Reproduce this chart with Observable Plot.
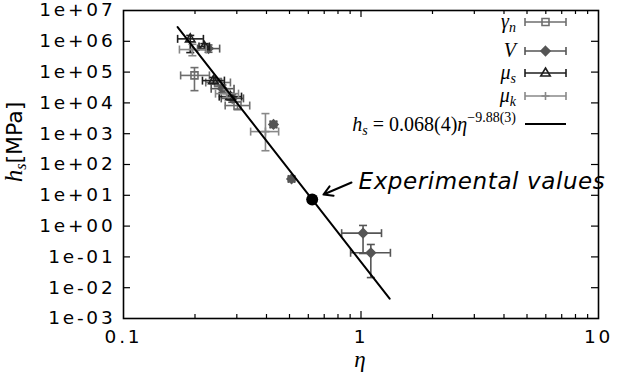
<!DOCTYPE html>
<html><head><meta charset="utf-8">
<script src="https://cdn.jsdelivr.net/npm/d3@7"></script>
<script src="https://cdn.jsdelivr.net/npm/@observablehq/plot@0.6"></script>
<style>
body{margin:0;background:#fff;}
#chart svg{display:block;}
g[aria-label="y-axis tick label"] text, g[aria-label="x-axis tick label"] text{letter-spacing:2.8px;}
</style>
</head><body><div id="chart"></div>
<script>
// ---- data ----
const xTicks = [0.1, 1, 10];
const yTicks = [1e-3,1e-2,1e-1,1e0,1e1,1e2,1e3,1e4,1e5,1e6,1e7];
const xMinor = [0.2,0.3,0.4,0.5,0.6,0.7,0.8,0.9,2,3,4,5,6,7,8,9];

// gamma_n (open squares)
const gEta   = [0.199, 0.250, 0.302];
const gH     = [7.8e4, 4.6e4, 8.2e3];
const gEtaLo = [0.174, 0.222, 0.268];
const gEtaHi = [0.230, 0.282, 0.340];
const gHLo   = [2.5e4, 3.4e4, 6.0e3];
const gHHi   = [1.4e5, 6.2e4, 1.1e4];

// V (filled diamonds)
const vEta   = [0.228, 0.261, 0.287, 0.428, 0.510, 1.02, 1.10];
const vH     = [5.8e5, 2.9e4, 1.4e4, 2.0e3, 34, 0.59, 0.136];
const vEtaLo = [0.205, 0.234, 0.258, 0.415, 0.495, 0.829, 0.904];
const vEtaHi = [0.254, 0.292, 0.320, 0.441, 0.525, 1.22, 1.33];
const vHLo   = [4.4e5, 2.2e4, 1.05e4, 1.6e3, 28, 0.129, 0.0213];
const vHHi   = [7.6e5, 3.8e4, 1.85e4, 2.5e3, 41, 1.05, 0.253];

// mu_s (open triangles)
const sEta   = [0.191, 0.219, 0.239, 0.282];
const sH     = [1.2e6, 6.8e5, 5.3e4, 1.6e4];
const sEtaLo = [0.169, 0.208, 0.215, 0.253];
const sEtaHi = [0.217, 0.230, 0.266, 0.314];
const sHLo   = [4.3e5, 5.5e5, 4.2e4, 1.25e4];
const sHHi   = [1.55e6, 8.4e5, 6.7e4, 2.05e4];

// mu_k (plus)
const kEta   = [0.195, 0.272, 0.396];
const kH     = [5.4e5, 2.0e4, 1.17e3];
const kEtaLo = [0.172, 0.244, 0.343];
const kEtaHi = [0.223, 0.305, 0.450];
const kHLo   = [3.4e5, 1.5e4, 280];
const kHHi   = [8.0e5, 2.7e4, 4.5e3];

// fit line h_s = 0.068 eta^-9.88 (end points)
const fitEta = [0.169, 1.32];
const fitH   = [2.9e6, 4.4e-3];

// experimental value + annotation
const expEta = [0.623];
const expH   = [7.3];
const arrowFrom = [0.912, 26];
const arrowTo   = [0.695, 10.6];
const noteAt    = [0.976, 30];
const noteText  = "Experimental values";

// ---- build ----
function rows(eta, h, lo, hi, hlo, hhi){
  return eta.map((e,i)=>({eta:e, h:h[i], lo:lo[i], hi:hi[i], hlo:hlo[i], hhi:hhi[i]}));
}
const diamondSym = {draw(ctx){ const r=4.5; ctx.moveTo(0,-r); ctx.lineTo(r,0); ctx.lineTo(0,r); ctx.lineTo(-r,0); ctx.closePath(); }};
const squareSym  = {draw(ctx){ const r=3.5; ctx.rect(-r,-r,2*r,2*r); }};
const triSym     = {draw(ctx){ const r=5; ctx.moveTo(0,-r); ctx.lineTo(r*0.95,r*0.6); ctx.lineTo(-r*0.95,r*0.6); ctx.closePath(); }};
const plusSym    = {draw(ctx){ const r=4; ctx.moveTo(0,-r); ctx.lineTo(0,r); ctx.moveTo(-r,0); ctx.lineTo(r,0); }};
const series = [
  {rows: rows(gEta,gH,gEtaLo,gEtaHi,gHLo,gHHi), color:"#6e6e6e", symbol:squareSym, fill:"none"},
  {rows: rows(vEta,vH,vEtaLo,vEtaHi,vHLo,vHHi), color:"#555555", symbol:diamondSym, fill:"#555555"},
  {rows: rows(sEta,sH,sEtaLo,sEtaHi,sHLo,sHHi), color:"#1e1e1e", symbol:triSym, fill:"none"},
  {rows: rows(kEta,kH,kEtaLo,kEtaHi,kHLo,kHHi), color:"#888888", symbol:plusSym, fill:"none"}
];
const vcap = {draw(ctx){ ctx.moveTo(0,-4); ctx.lineTo(0,4); }};
const hcap = {draw(ctx){ ctx.moveTo(-4,0); ctx.lineTo(4,0); }};

const W = 617, H = 374, mL = 123, mR = 19, mT = 10, mB = 56;
const fw = W - mL - mR, fh = H - mT - mB;

const marks = [];
marks.push(Plot.tickX(xTicks.slice(1,-1), {x:d=>d, insetTop: fh-7, stroke:"black", strokeWidth:1.2}));
marks.push(Plot.tickX(xTicks.slice(1,-1), {x:d=>d, insetBottom: fh-7, stroke:"black", strokeWidth:1.2}));
marks.push(Plot.tickX(xMinor, {x:d=>d, insetTop: fh-4, stroke:"black", strokeWidth:1.2}));
marks.push(Plot.tickX(xMinor, {x:d=>d, insetBottom: fh-4, stroke:"black", strokeWidth:1.2}));
marks.push(Plot.tickY(yTicks.slice(1,-1), {y:d=>d, insetRight: fw-7, stroke:"black", strokeWidth:1.2}));
marks.push(Plot.tickY(yTicks.slice(1,-1), {y:d=>d, insetLeft: fw-7, stroke:"black", strokeWidth:1.2}));

for (const s of series){
  marks.push(Plot.ruleY(s.rows, {y:"h", x1:"lo", x2:"hi", stroke:s.color, strokeWidth:1.6}));
  marks.push(Plot.ruleX(s.rows, {x:"eta", y1:"hlo", y2:"hhi", stroke:s.color, strokeWidth:1.6}));
  marks.push(Plot.dot(s.rows, {x:"lo", y:"h", symbol:vcap, fill:"none", stroke:s.color, strokeWidth:1.6}));
  marks.push(Plot.dot(s.rows, {x:"hi", y:"h", symbol:vcap, fill:"none", stroke:s.color, strokeWidth:1.6}));
  marks.push(Plot.dot(s.rows, {x:"eta", y:"hlo", symbol:hcap, fill:"none", stroke:s.color, strokeWidth:1.6}));
  marks.push(Plot.dot(s.rows, {x:"eta", y:"hhi", symbol:hcap, fill:"none", stroke:s.color, strokeWidth:1.6}));
  marks.push(Plot.dot(s.rows, {x:"eta", y:"h", symbol:s.symbol, fill:s.fill, stroke:s.color, strokeWidth:1.6}));
}
marks.push(Plot.line(fitEta.map((e,i)=>({eta:e, h:fitH[i]})), {x:"eta", y:"h", stroke:"black", strokeWidth:2}));
marks.push(Plot.dot(expEta.map((e,i)=>({eta:e,h:expH[i]})), {x:"eta", y:"h", r:6, fill:"black"}));
marks.push(Plot.arrow([{x1:arrowFrom[0], y1:arrowFrom[1], x2:arrowTo[0], y2:arrowTo[1]}], {x1:"x1", y1:"y1", x2:"x2", y2:"y2", stroke:"black", strokeWidth:2, headLength:10}));
marks.push(Plot.text([{x:noteAt[0], y:noteAt[1]}], {x:"x", y:"y", text:()=>noteText, textAnchor:"start", fontStyle:"italic", fontSize:23, fontFamily:"DejaVu Sans", fill:"black", dy:1}));
marks.push(Plot.frame({stroke:"black", strokeWidth:1.6}));
const fmt = d => { const e = Math.round(Math.log10(d)); const a = Math.abs(e); return "1e" + (e<0?"-":"+") + (a<10?"0":"") + a; };
marks.push(Plot.axisY({ticks:yTicks, tickFormat:fmt, tickSize:0, tickPadding:8, label:null, fontSize:18.5}));
marks.push(Plot.axisX({ticks:xTicks, tickFormat:d=>String(d), tickSize:0, tickPadding:11, label:null, fontSize:18.5}));

const svg = Plot.plot({
  width:W, height:H, marginLeft:mL, marginRight:mR, marginTop:mT, marginBottom:mB,
  x:{type:"log", domain:[0.1,10]},
  y:{type:"log", domain:[1e-3,1e7]},
  style:{fontFamily:"DejaVu Sans", fontSize:"18.5px", color:"black", background:"white"},
  marks
});
document.getElementById("chart").appendChild(svg);
svg.querySelectorAll('g[aria-label="text"] text').forEach(t=>t.style.letterSpacing="0.6px");

// ---- legend & axis titles ----
const S = d3.select(svg);
const serif = "Liberation Serif";
const leg = S.append("g");
const legItems = [
  {label:["γ","n"], y:22, s:series[0]},
  {label:["V",""], y:51, s:series[1]},
  {label:["μ","s"], y:73, s:series[2]},
  {label:["μ","k"], y:96, s:series[3]}
];
const ctxPath = sym => { const p = d3.path(); sym.draw(p); return p.toString(); };
for (const it of legItems){
  const t = leg.append("text").attr("x",516).attr("y",it.y+6).attr("text-anchor","end")
    .attr("font-family",serif).attr("font-style","italic").attr("font-size",20);
  t.append("tspan").text(it.label[0]);
  if (it.label[1]) t.append("tspan").attr("font-size",14).attr("dy",4).text(it.label[1]);
  const c = it.s.color;
  leg.append("line").attr("x1",525).attr("x2",566).attr("y1",it.y).attr("y2",it.y).attr("stroke",c).attr("stroke-width",1.6);
  leg.append("line").attr("x1",525).attr("x2",525).attr("y1",it.y-4).attr("y2",it.y+4).attr("stroke",c).attr("stroke-width",1.6);
  leg.append("line").attr("x1",566).attr("x2",566).attr("y1",it.y-4).attr("y2",it.y+4).attr("stroke",c).attr("stroke-width",1.6);
  leg.append("path").attr("transform",`translate(545.5,${it.y})`).attr("d",ctxPath(it.s.symbol))
    .attr("fill",it.s.fill).attr("stroke",c).attr("stroke-width",1.6);
}
// fit formula
const ft = leg.append("text").attr("x",516).attr("y",131).attr("text-anchor","end").attr("font-family",serif).attr("font-size",20);
ft.append("tspan").attr("font-style","italic").text("h");
ft.append("tspan").attr("font-style","italic").attr("font-size",14).attr("dy",4).text("s");
ft.append("tspan").attr("dy",-4).text(" = 0.068(4)");
ft.append("tspan").attr("font-style","italic").text("η");
ft.append("tspan").attr("font-size",14).attr("dy",-9).text("−9.88(3)");
leg.append("line").attr("x1",525).attr("x2",566).attr("y1",124).attr("y2",124).attr("stroke","black").attr("stroke-width",2);

// y title
const yt = S.append("text").attr("transform","translate(22,142) rotate(-90)").attr("text-anchor","middle").attr("font-size",22);
yt.append("tspan").attr("font-family",serif).attr("font-style","italic").attr("font-size",25).text("h");
yt.append("tspan").attr("font-family",serif).attr("font-style","italic").attr("font-size",16).attr("dy",4).text("s");
yt.append("tspan").attr("font-family","DejaVu Sans").attr("dy",-4).text("[MPa]");
// x title
S.append("text").attr("x",360).attr("y",367).attr("text-anchor","middle").attr("font-family",serif)
  .attr("font-style","italic").attr("font-size",23).text("η");
</script></body></html>
